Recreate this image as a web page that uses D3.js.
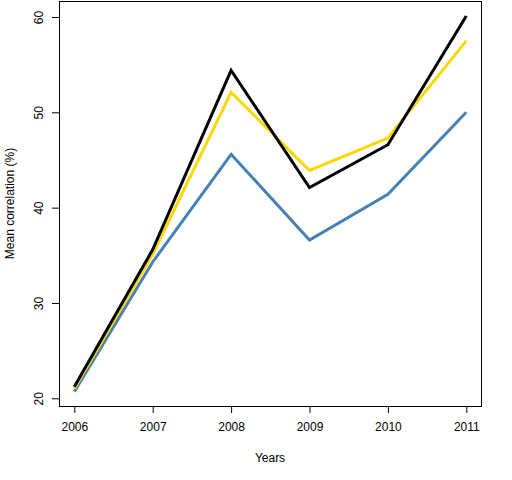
<!DOCTYPE html>
<html>
<head>
<meta charset="utf-8">
<script src="https://cdn.jsdelivr.net/npm/d3@7"></script>
<style>
  body { margin: 0; background: #fff; }
  text { font-family: "Liberation Sans", Arial, sans-serif; font-size: 12px; fill: #000; }
</style>
</head>
<body>
<script>
// data
var years = [2006, 2007, 2008, 2009, 2010, 2011];
var blueVals  = [20.7, 34.3, 45.6, 36.6, 41.4, 50.0];
var goldVals  = [21.0, 35.1, 52.1, 43.9, 47.3, 57.5];
var blackVals = [21.2, 35.6, 54.4, 42.1, 46.6, 60.1];
var yTicks = [20, 30, 40, 50, 60];

var W = 512, H = 480;
var box = {left: 59, right: 481, top: 1, bottom: 406};

var svg = d3.select("body")
  .append("svg")
    .attr("width", W)
    .attr("height", H);

var x = d3.scaleLinear()
    .domain([2006, 2011])
    .range([74.3, 466.3]);

var y = d3.scaleLinear()
    .domain([20, 60])
    .range([398.3, 17]);

// axes, R style
var xAxis = d3.axisBottom(x).tickValues(years).tickFormat(d3.format("d")).tickSize(7).tickPadding(9);
var yAxis = d3.axisLeft(y).tickValues(yTicks).tickSize(7).tickPadding(0);

var gx = svg.append("g")
  .attr("transform", "translate(0," + box.bottom + ")")
  .call(xAxis);
gx.select(".domain").remove();
gx.selectAll("text").style("font-size", "12px");

var gy = svg.append("g")
  .attr("transform", "translate(" + box.left + ",0)")
  .call(yAxis);
gy.select(".domain").remove();
gy.selectAll(".tick text")
  .attr("x", null).attr("dy", null)
  .attr("text-anchor", "middle")
  .attr("transform", "translate(-16,0) rotate(-90)")
  .style("font-size", "12px");

svg.selectAll(".tick line").attr("stroke", "#000");

// frame
svg.append("rect")
  .attr("x", box.left + 0.5)
  .attr("y", box.top + 0.5)
  .attr("width", box.right - box.left)
  .attr("height", box.bottom - box.top)
  .attr("fill", "none")
  .attr("stroke", "#000");

var line = d3.line()
  .x(function(d, i) { return x(years[i]); })
  .y(function(d) { return y(d); });

var series = [
  {vals: blueVals, color: "#4682B4"},
  {vals: goldVals, color: "#FFD700"},
  {vals: blackVals, color: "#000000"}
];

svg.selectAll("path.series")
  .data(series)
  .enter()
  .append("path")
    .attr("class", "series")
    .attr("d", function(d) { return line(d.vals); })
    .attr("fill", "none")
    .attr("stroke", function(d) { return d.color; })
    .attr("stroke-width", 3)
    .attr("stroke-linejoin", "miter");

// axis titles
svg.append("text")
  .attr("x", (box.left + box.right) / 2)
  .attr("y", 462)
  .attr("text-anchor", "middle")
  .text("Years");

svg.append("text")
  .attr("transform", "translate(14," + (box.top + box.bottom) / 2 + ") rotate(-90)")
  .attr("text-anchor", "middle")
  .text("Mean correlation (%)");
</script>
</body>
</html>
